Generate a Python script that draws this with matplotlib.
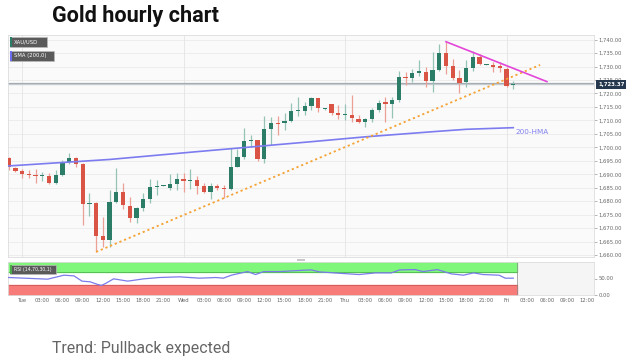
import matplotlib
matplotlib.use("Agg")
import matplotlib.pyplot as plt
from matplotlib.patches import Rectangle

# ---------------- data ----------------
hours = list(range(-2, 74))  # hourly candles, 0 = Tue 00:00
opens = [1695.9, 1692.2, 1691.3, 1690.0, 1689.8, 1689.4, 1689.3, 1686.9, 1689.8, 1694.5,
         1696.1, 1693.8, 1678.8, 1679.2, 1667.2, 1665.6, 1679.8, 1683.5, 1678.2, 1673.6,
         1677.6, 1680.8, 1685.4, 1685.8, 1684.8, 1686.3, 1688.2, 1687.6, 1687.9, 1685.6,
         1683.3, 1685.6, 1684.8, 1684.4, 1692.8, 1696.5, 1702.3, 1702.7, 1695.5, 1706.7,
         1708.9, 1708.9, 1709.9, 1713.6, 1713.6, 1715.3, 1718.2, 1714.2, 1716.0, 1712.9,
         1712.0, 1712.0, 1710.5, 1709.3, 1710.5, 1713.9, 1716.7, 1716.0, 1717.6, 1726.0,
         1725.6, 1727.7, 1728.1, 1724.7, 1728.7, 1734.9, 1730.2, 1725.6, 1724.4, 1729.4,
         1733.4, 1730.7, 1730.6, 1730.3, 1728.9, 1723.2]
highs = [1696.6, 1692.8, 1691.9, 1691.7, 1691.8, 1690.7, 1690.4, 1691.5, 1695.3, 1698.0,
         1696.6, 1694.2, 1682.9, 1679.6, 1674.2, 1684.1, 1692.2, 1686.6, 1681.7, 1678.0,
         1683.0, 1688.1, 1687.9, 1686.1, 1690.0, 1690.6, 1690.4, 1691.8, 1689.4, 1686.6,
         1686.6, 1686.5, 1686.2, 1699.6, 1699.4, 1707.1, 1704.5, 1702.7, 1711.6, 1711.1,
         1711.7, 1712.6, 1716.3, 1718.6, 1717.0, 1718.8, 1718.2, 1714.5, 1716.0, 1715.7,
         1716.0, 1719.4, 1712.0, 1710.8, 1714.5, 1717.6, 1718.8, 1718.8, 1728.3, 1728.1,
         1729.0, 1732.4, 1730.0, 1735.5, 1738.4, 1739.2, 1732.7, 1728.7, 1732.4, 1735.9,
         1734.6, 1731.0, 1731.8, 1731.8, 1729.9, 1724.5]
lows = [1691.6, 1690.7, 1688.7, 1688.7, 1686.9, 1687.4, 1686.4, 1686.4, 1689.2, 1693.7,
        1692.6, 1671.1, 1674.5, 1661.2, 1662.9, 1663.0, 1679.5, 1677.0, 1672.4, 1671.8,
        1676.5, 1679.5, 1682.2, 1685.5, 1684.0, 1684.0, 1683.5, 1684.5, 1682.5, 1683.0,
        1681.0, 1684.0, 1681.1, 1684.0, 1692.6, 1695.5, 1700.0, 1694.8, 1694.1, 1700.9,
        1704.6, 1706.4, 1709.5, 1711.6, 1712.0, 1713.9, 1713.2, 1713.9, 1712.0, 1710.5,
        1710.3, 1709.5, 1708.9, 1707.4, 1709.5, 1713.2, 1709.5, 1710.8, 1717.0, 1723.1,
        1724.4, 1726.5, 1722.3, 1720.7, 1728.3, 1727.4, 1725.0, 1720.0, 1722.5, 1728.5,
        1730.5, 1730.4, 1728.1, 1728.1, 1722.3, 1721.6]
closes = [1692.8, 1691.3, 1690.2, 1689.6, 1689.2, 1689.7, 1686.9, 1689.6, 1694.5, 1696.1,
          1693.8, 1678.8, 1679.4, 1667.2, 1665.6, 1679.8, 1683.5, 1678.6, 1673.6, 1677.6,
          1680.8, 1685.4, 1685.8, 1685.8, 1686.3, 1688.2, 1687.6, 1687.8, 1685.8, 1683.3,
          1685.6, 1684.8, 1684.6, 1692.8, 1696.5, 1702.3, 1702.7, 1695.5, 1706.7, 1708.9,
          1708.7, 1709.9, 1713.6, 1713.9, 1715.5, 1718.4, 1714.5, 1714.2, 1712.9, 1712.0,
          1712.2, 1710.8, 1709.5, 1710.5, 1713.9, 1716.6, 1716.1, 1717.6, 1726.0, 1725.6,
          1727.7, 1728.3, 1724.7, 1728.7, 1734.9, 1730.2, 1725.6, 1724.0, 1729.4, 1733.4,
          1730.9, 1730.7, 1729.7, 1729.4, 1722.8, 1723.4]

sma_hours = [-2, 13, 26, 43, 51, 61, 66, 73]
sma_values = [1693.1, 1695.5, 1698.4, 1702.1, 1703.9, 1705.8, 1706.7, 1707.3]

uptrend_hours = [11, 77]
uptrend_values = [1661.2, 1730.6]
downtrend_hours = [63, 78]
downtrend_values = [1739.2, 1724.4]

current_price = 1723.37

rsi_hours = [-2, 0.3, 3.8, 6.2, 7.7, 8.9, 10.1, 11.2, 11.8, 12.4, 13.6, 15.7, 18.1, 20.4,
             23.4, 26.4, 28.8, 29.9, 31.1, 33.5, 34.7, 35.9, 38.3, 41.8, 43.0, 44.2, 47.8,
             50.1, 52.5, 54.9, 56.1, 58.4, 59.6, 61.7, 63.8, 65.6, 67.1, 68.5, 70.9, 71.8, 73]
rsi_values = [53, 51, 48, 60, 58, 42, 40, 32, 29, 35, 49, 42, 49, 53, 55, 51, 53, 51, 60,
              71, 62, 71, 71, 75, 76, 70, 65, 62, 67, 67, 76, 77, 71, 77, 64, 60, 67, 62,
              60, 51, 51]

tick_hours = list(range(0, 85, 3))
day_names = {0: "Tue", 24: "Wed", 48: "Thu", 72: "Fri"}
tick_labels = [day_names.get(h, f"{h % 24:02d}:00") for h in tick_hours]
price_ticks = list(range(1660, 1741, 5))

# ---------------- figure ----------------
W, H = 628, 363
fig = plt.figure(figsize=(W / 100, H / 100), dpi=100)

def frac(x0, y0, x1, y1):
    return [x0 / W, 1 - y1 / H, (x1 - x0) / W, (y1 - y0) / H]

ax = fig.add_axes(frac(8, 35, 594, 257))
ax.set_facecolor("#fafafa")
XL = (-2.1, 85.0)
ax.set_xlim(*XL)
ax.set_ylim(1659.3, 1741.7)

# grid
for p in price_ticks:
    ax.axhline(p, color="#ebebeb", lw=0.6, zorder=0)
for h in [0, 24, 48, 72]:
    ax.axvline(h, color="#e4e4e4", lw=0.6, zorder=0)

green, red = "#2b7d68", "#d95444"
green_w, red_w = "#95c4b6", "#ec9f95"
for h, o, hi, lo, c in zip(hours, opens, highs, lows, closes):
    up = c >= o
    ax.vlines(h, lo, hi, color=green_w if up else red_w, lw=0.9, zorder=2)
    body = max(abs(c - o), 0.35)
    ax.bar(h, body, bottom=min(o, c), width=0.64, color=green if up else red,
           edgecolor="none", zorder=3)

ax.plot(sma_hours, sma_values, color="#7c7cf0", lw=1.2, zorder=4)
ax.text(73.4, 1705.6, "200-HMA", color="#8080ee", fontsize=5.2, va="center", ha="left")
ax.plot(uptrend_hours, uptrend_values, color="#f5a233", lw=1.3, ls=(0, (1.2, 1.6)), zorder=4)
ax.plot(downtrend_hours, downtrend_values, color="#e346d8", lw=1.2, zorder=4)
ax.axhline(current_price, color="#a4abb3", lw=1.6, zorder=1)
ax.axhline(current_price, color="#d6dade", lw=0.5, zorder=1)

ax.yaxis.tick_right()
ax.set_yticks(price_ticks)
ax.set_yticklabels([f"{p:,.2f}" for p in price_ticks])
ax.tick_params(axis="y", length=2, width=0.5, colors="#999999", labelsize=3.8, pad=1.5,
               labelcolor="#666666")
ax.set_xticks([])
for s in ax.spines.values():
    s.set_color("#dddddd")
    s.set_linewidth(0.6)

ax.annotate(f"{current_price:,.2f}", xy=(1.0, current_price),
            xycoords=("axes fraction", "data"), xytext=(3, 0), textcoords="offset points",
            fontsize=3.9, color="white", va="center", ha="left", fontweight="bold",
            bbox=dict(boxstyle="square,pad=0.35", fc="#25384d", ec="none"), zorder=10)

# legend boxes
def tag(x0, y0, x1, y1, text, stripe, fs=3.8):
    fig.patches.append(Rectangle((x0 / W, 1 - y1 / H), (x1 - x0) / W, (y1 - y0) / H,
                                 transform=fig.transFigure, fc="#5a5a5a", ec="#bbbbbb",
                                 lw=0.5, zorder=20))
    fig.patches.append(Rectangle((x0 / W, 1 - y1 / H), 1.5 / W, (y1 - y0) / H,
                                 transform=fig.transFigure, fc=stripe, ec="none", zorder=21))
    fig.text((x0 + 4) / W, 1 - (y0 + y1) / 2 / H, text, fontsize=fs, color="white",
             va="center", ha="left", zorder=22)

tag(10, 37, 47, 47, "XAU/USD", "#2b7d68")
tag(10, 51, 54, 61, "SMA (200,0)", "#6c6cf0")

# scroll handle
fig.patches.append(Rectangle((297 / W, 1 - 261 / H), 8 / W, 2.5 / H,
                             transform=fig.transFigure, fc="#c8c8c8", ec="none"))

# ---------------- RSI ----------------
ax2 = fig.add_axes(frac(8, 262, 594, 295))
ax2.set_facecolor("#f5f5f5")
ax2.set_xlim(*XL)
ax2.set_ylim(0, 100)
last = hours[-1] + 0.5
ax2.fill_between([XL[0], last], 0, 100, color="white", zorder=0)
ax2.fill_between([XL[0], last], 70, 100, color="#7ef77a", zorder=1)
ax2.fill_between([XL[0], last], 0, 30, color="#f77b78", zorder=1)
ax2.plot([XL[0], last], [70, 70], color="#4aa84a", lw=0.5, zorder=2)
ax2.plot([XL[0], last], [30, 30], color="#c85050", lw=0.5, zorder=2)
ax2.axvline(last, color="#888888", lw=0.5)
ax2.plot(rsi_hours, rsi_values, color="#7b7bea", lw=0.9, zorder=3)
ax2.yaxis.tick_right()
ax2.set_yticks([0, 50])
ax2.set_yticklabels(["0.00", "50.00"])
ax2.tick_params(axis="y", length=2, width=0.5, colors="#999999", labelsize=3.8, pad=1.5,
                labelcolor="#666666")
ax2.set_xticks(tick_hours)
ax2.set_xticklabels(tick_labels)
ax2.tick_params(axis="x", length=0, labelsize=3.8, labelcolor="#666666", pad=2)
for s in ax2.spines.values():
    s.set_color("#dddddd")
    s.set_linewidth(0.6)

tag(10, 265, 56, 274, "RSI (14,70,30,1)", "#4aa84a", fs=3.3)

# ---------------- texts ----------------
fig.text(52 / W, 1 - 16 / H, "Gold hourly chart", fontsize=15.6, fontweight="bold",
         family="Roboto", va="center", ha="left", color="#111111")
fig.text(52 / W, 1 - 348 / H, "Trend: Pullback expected", fontsize=11.4, fontweight="normal",
         family="Roboto", va="center", ha="left", color="#666666")

fig.savefig("out.png", dpi=100)
